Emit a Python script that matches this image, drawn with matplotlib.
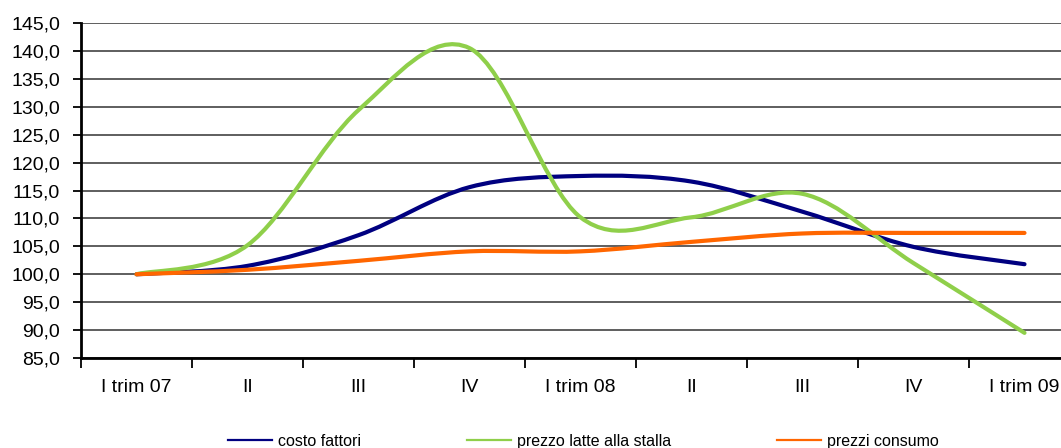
import matplotlib
matplotlib.use("Agg")
import matplotlib.pyplot as plt
import numpy as np
from matplotlib.path import Path
from matplotlib.patches import PathPatch
from matplotlib.lines import Line2D

plt.rcParams['font.family'] = ['Liberation Sans', 'DejaVu Sans']

quarters = ["I trim 07", "II", "III", "IV", "I trim 08", "II", "III", "IV", "I trim 09"]
costo_fattori = [100.0, 101.5, 107.0, 115.6, 117.6, 116.6, 111.2, 104.9, 101.8]
prezzo_latte = [100.0, 105.2, 129.4, 140.5, 110.2, 110.2, 114.4, 102.0, 89.5]
prezzi_consumo = [100.0, 100.8, 102.4, 104.1, 104.1, 105.8, 107.3, 107.4, 107.4]

series = [
    ("costo fattori", costo_fattori, "#000080"),
    ("prezzo latte alla stalla", prezzo_latte, "#8FCF4A"),
    ("prezzi consumo", prezzi_consumo, "#FF6600"),
]


def smooth_path(x, y):
    # Excel-style smoothed line: Bezier segments with Catmull-Rom control points
    pts = np.column_stack([x, y]).astype(float)
    ext = np.vstack([pts[0], pts, pts[-1]])
    verts = [pts[0]]
    codes = [Path.MOVETO]
    for i in range(len(pts) - 1):
        p0, p1, p2, p3 = ext[i], ext[i + 1], ext[i + 2], ext[i + 3]
        c1 = p1 + (p2 - p0) / 6.0
        c2 = p2 - (p3 - p1) / 6.0
        verts += [c1, c2, p2]
        codes += [Path.CURVE4] * 3
    return Path(verts, codes)


fig = plt.figure(figsize=(10.61, 4.48), dpi=100)
W, H = 1061, 448
ax = fig.add_axes([81 / W, (H - 358) / H, (1080 - 81) / W, (358 - 23) / H])

x = np.arange(len(quarters))
handles = []
for name, vals, col in series:
    patch = PathPatch(smooth_path(x, vals), facecolor="none", edgecolor=col,
                      lw=3.0, capstyle="round", joinstyle="round", zorder=3)
    ax.add_patch(patch)
    handles.append(Line2D([], [], color=col, lw=1.6, label=name))

ax.set_xlim(-0.5, len(quarters) - 0.5)
ax.set_ylim(85, 145)
ax.set_yticks(np.arange(85, 146, 5))
ax.set_yticklabels([f"{v:.1f}".replace(".", ",") for v in np.arange(85, 146, 5)])
ax.yaxis.grid(True, color="#333333", lw=1.1)
ax.set_axisbelow(True)

ax.set_xticks(np.arange(-0.5, len(quarters), 1.0))
ax.set_xticklabels([])
ax.set_xticks(x, minor=True)
ax.set_xticklabels(quarters, minor=True)
ax.tick_params(axis="x", which="major", length=7, width=1.3, color="black", direction="out")
ax.tick_params(axis="x", which="minor", length=0, pad=15, labelsize=14)
ax.tick_params(axis="y", length=6, width=1.3, direction="out", pad=9, labelsize=14)

for s in ["top", "right"]:
    ax.spines[s].set_visible(False)
for s in ["left", "bottom"]:
    ax.spines[s].set_linewidth(2.0)
    ax.spines[s].set_color("black")

fig.legend(handles=handles, loc="center left", bbox_to_anchor=(228 / W, 7 / H),
           ncol=3, frameon=False, fontsize=11.5, handlelength=2.75,
           handletextpad=0.4, columnspacing=6.6, borderpad=0, borderaxespad=0)

fig.savefig("out.png", dpi=100)
